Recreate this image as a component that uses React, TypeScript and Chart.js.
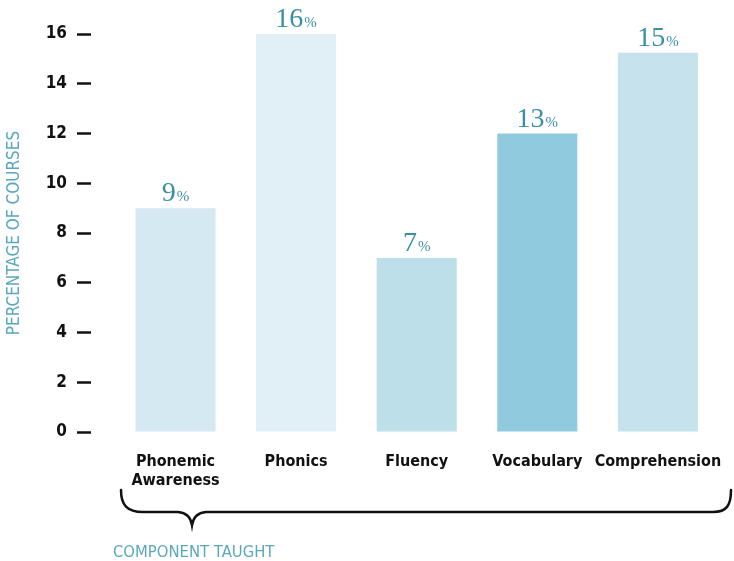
import React, { useEffect, useRef } from 'react';
import { Chart, registerables } from 'chart.js';

Chart.register(...registerables);

// ---- data ----
const categories: (string | string[])[] = [['Phonemic', 'Awareness'], 'Phonics', 'Fluency', 'Vocabulary', 'Comprehension'];
const values = [9, 16, 7, 12, 15.25];
const valueLabels = ['9', '16', '7', '13', '15'];
const barColors = ['#d4e9f1', '#e1f0f6', '#bcdfea', '#8fcade', '#c6e3ed'];
const yTickValues = [0, 2, 4, 6, 8, 10, 12, 14, 16];
const yTitle = 'PERCENTAGE OF COURSES';
const xTitle = 'COMPONENT TAUGHT';

const SANS_NARROW = "'Liberation Sans Narrow', 'DejaVu Sans Condensed', 'Liberation Sans', sans-serif";
const SERIF = "'Liberation Serif', 'DejaVu Serif', serif";
const TEAL = '#3a8fa5';
const TEAL_LIGHT = '#5aa8bd';

const decorPlugin = {
  id: 'decor',
  afterDraw(chart: any) {
    const ctx = chart.ctx as CanvasRenderingContext2D;
    const meta = chart.getDatasetMeta(0);
    ctx.save();
    // value labels above bars
    meta.data.forEach((el: any, i: number) => {
      const num = valueLabels[i];
      ctx.font = `28px ${SERIF}`;
      const w1 = ctx.measureText(num).width;
      ctx.font = `15px ${SERIF}`;
      const w2 = ctx.measureText('%').width;
      const gap = 1;
      const start = el.x - (w1 + gap + w2) / 2;
      const base = el.y - 7;
      ctx.fillStyle = TEAL;
      ctx.textAlign = 'left';
      ctx.textBaseline = 'alphabetic';
      ctx.font = `28px ${SERIF}`;
      ctx.fillText(num, start, base);
      ctx.font = `15px ${SERIF}`;
      ctx.fillText('%', start + w1 + gap, base);
    });

    // brace under the x labels
    const xs = chart.scales.x;
    const L = chart.chartArea.left + 30;
    const R = chart.chartArea.right - 3;
    const tip = xs.getPixelForValue(0) + 16.5;
    const top = 490;
    const mid = 512;
    const bottom = 525;
    ctx.strokeStyle = '#111';
    ctx.lineWidth = 2.5;
    ctx.lineCap = 'round';
    ctx.beginPath();
    ctx.moveTo(L, top);
    ctx.bezierCurveTo(L, 505, L + 6, mid, L + 22, mid);
    ctx.lineTo(tip - 14, mid);
    ctx.quadraticCurveTo(tip - 2, mid + 1, tip, bottom);
    ctx.quadraticCurveTo(tip + 2, mid + 1, tip + 14, mid);
    ctx.lineTo(R - 18, mid);
    ctx.bezierCurveTo(R - 4, mid, R, 505, R, top);
    ctx.stroke();

    // x axis title
    ctx.fillStyle = TEAL_LIGHT;
    ctx.font = `16.5px ${SANS_NARROW}`;
    ctx.textAlign = 'left';
    ctx.textBaseline = 'alphabetic';
    ctx.fillText(xTitle, chart.chartArea.left + 22, 557);
    ctx.restore();
  },
};

export default function App() {
  const ref = useRef<HTMLCanvasElement | null>(null);

  useEffect(() => {
    if (!ref.current) return;
    const chart = new Chart(ref.current, {
      type: 'bar',
      data: {
        datasets: [
          {
            data: values.map((v, i) => ({ x: i, y: v })),
            backgroundColor: barColors,
            borderWidth: 0,
            barPercentage: 0.815,
            categoryPercentage: 0.815,
          },
        ],
      },
      options: {
        responsive: false,
        animation: false,
        layout: { padding: { top: 34, left: 0, right: 0, bottom: 0 } },
        plugins: {
          legend: { display: false },
          tooltip: { enabled: false },
        },
        scales: {
          x: {
            type: 'linear',
            min: -0.7007,
            max: 4.631,
            offset: false,
            grid: { display: false },
            border: { display: false },
            afterBuildTicks: (scale: any) => {
              scale.ticks = categories.map((_, i) => ({ value: i }));
            },
            afterFit: (scale: any) => {
              scale.height = 129;
              scale.paddingLeft = 0;
              scale.paddingRight = 0;
            },
            ticks: {
              autoSkip: false,
              maxRotation: 0,
              minRotation: 0,
              padding: 13,
              color: '#111',
              font: { family: SANS_NARROW, size: 16, weight: 'bold', lineHeight: 1.15 },
              callback: (value: any) => categories[value as number] ?? '',
            },
          },
          y: {
            min: 0,
            max: 16,
            afterBuildTicks: (scale: any) => {
              scale.ticks = yTickValues.map((v) => ({ value: v }));
            },
            afterFit: (scale: any) => {
              scale.width = 91;
            },
            grid: {
              drawOnChartArea: false,
              drawTicks: true,
              tickLength: 14,
              tickWidth: 2.5,
              tickColor: '#111',
            },
            border: { display: false },
            ticks: {
              padding: 10,
              color: '#111',
              font: { family: SANS_NARROW, size: 17, weight: 'bold' },
            },
            title: {
              display: true,
              text: yTitle,
              color: TEAL_LIGHT,
              padding: { top: 4, bottom: 0 },
              font: { family: SANS_NARROW, size: 17, weight: 'normal' },
            },
          },
        },
      } as any,
      plugins: [decorPlugin],
    });
    return () => chart.destroy();
  }, []);

  return (
    <div style={{ position: 'absolute', left: 0, top: 0, width: 734, height: 561, background: '#fff' }}>
      <canvas ref={ref} width={734} height={561} style={{ display: 'block', width: 734, height: 561 }} />
    </div>
  );
}
